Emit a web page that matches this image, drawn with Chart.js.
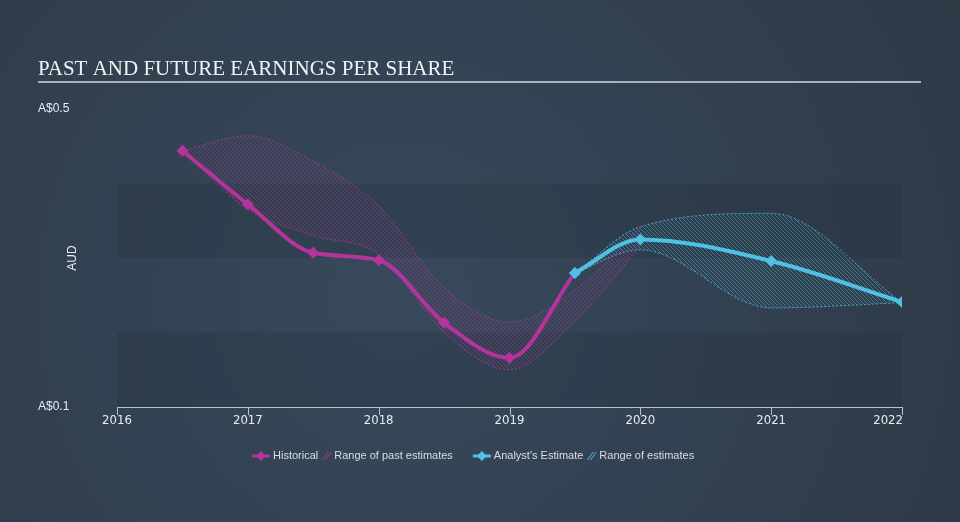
<!DOCTYPE html>
<html>
<head>
<meta charset="utf-8">
<script src="https://cdn.jsdelivr.net/npm/chart.js@4"></script>
<style>
  html, body { margin: 0; padding: 0; background: #334253; }
  #wrap { width: 960px; height: 522px; position: relative; }
</style>
</head>
<body>
<div id="wrap"><canvas id="eps" width="960" height="522"></canvas></div>
<script>
// Past and future EPS (AUD)
const yearTicks = [2016, 2017, 2018, 2019, 2020, 2021, 2022];
const yTicks = [0.1, 0.5];

const histX = [2016.5, 2017, 2017.5, 2018, 2018.5, 2019, 2019.5];
const histEps = [0.444, 0.372, 0.307, 0.297, 0.213, 0.166, 0.280];

const pastX = [2016.5, 2017, 2017.5, 2018, 2018.5, 2019, 2019.5, 2020];
const pastHigh = [0.444, 0.464, 0.430, 0.370, 0.260, 0.214, 0.257, 0.340];
const pastLow = [0.444, 0.365, 0.330, 0.305, 0.200, 0.150, 0.215, 0.315];

const estX = [2019.5, 2020, 2021, 2022];
const estEps = [0.280, 0.325, 0.296, 0.241];
const estHigh = [0.280, 0.342, 0.360, 0.241];
const estLow = [0.280, 0.311, 0.233, 0.240];

const MAGENTA = '#b4349b';
const BLUE = '#4fc1e3';
const FONT = "'Liberation Sans', Arial, sans-serif";

function pts(xs, ys) { return xs.map((x, i) => ({ x: x, y: ys[i] })); }

function hatch(color) {
  const s = 4;
  const c = document.createElement('canvas');
  c.width = s; c.height = s;
  const g = c.getContext('2d');
  g.strokeStyle = color;
  g.lineWidth = 1;
  g.beginPath();
  g.moveTo(0, 0); g.lineTo(s, s);
  g.moveTo(-1, s - 1); g.lineTo(1, s + 1);
  g.moveTo(s - 1, -1); g.lineTo(s + 1, 1);
  g.stroke();
  return g.createPattern(c, 'repeat');
}

const frame = {
  id: 'frame',
  beforeDraw(chart) {
    const { ctx, width, height } = chart;
    const grd = ctx.createRadialGradient(400, 300, 50, 400, 300, 640);
    grd.addColorStop(0, '#36485a');
    grd.addColorStop(1, '#2e3946');
    ctx.save();
    ctx.fillStyle = grd;
    ctx.fillRect(0, 0, width, height);

    // title + rule
    ctx.fillStyle = '#f2f2f2';
    ctx.font = "21px 'Liberation Serif', 'Times New Roman', serif";
    ctx.textBaseline = 'alphabetic';
    ctx.fillText('PAST AND FUTURE EARNINGS PER SHARE', 38, 75);
    ctx.fillStyle = '#a9b1b9';
    ctx.fillRect(38, 81, 883, 2);
    ctx.restore();
  },
  beforeDatasetsDraw(chart) {
    const { ctx, chartArea: a, scales: { y } } = chart;
    ctx.save();
    ctx.fillStyle = 'rgba(30,40,52,0.2)';
    [[0.1, 0.2], [0.3, 0.4]].forEach(([lo, hi]) => {
      const t = y.getPixelForValue(hi), b = y.getPixelForValue(lo);
      ctx.fillRect(a.left, t, a.right - a.left, b - t);
    });
    ctx.restore();
  },
  afterDraw(chart) {
    const { ctx, chartArea: a, scales: { x, y } } = chart;
    ctx.save();
    // x axis
    ctx.strokeStyle = '#b8c2cc';
    ctx.lineWidth = 1;
    ctx.beginPath();
    ctx.moveTo(a.left, a.bottom + 0.5);
    ctx.lineTo(a.right, a.bottom + 0.5);
    yearTicks.forEach(v => {
      const px = Math.round(x.getPixelForValue(v)) + 0.5;
      ctx.moveTo(px, a.bottom);
      ctx.lineTo(px, a.bottom + 8);
    });
    ctx.stroke();
    ctx.fillStyle = '#e8ecef';
    ctx.font = "13px 'Liberation Sans Narrow', 'DejaVu Sans Condensed', " + FONT;
    ctx.textBaseline = 'middle';
    yearTicks.forEach((v, i) => {
      const px = x.getPixelForValue(v);
      ctx.textAlign = i === yearTicks.length - 1 ? 'right' : 'center';
      ctx.fillText(String(v), i === yearTicks.length - 1 ? px + 1 : px, a.bottom + 14);
    });
    // y labels
    ctx.font = '12px ' + FONT;
    ctx.textAlign = 'left';
    yTicks.forEach(v => {
      ctx.fillText('A$' + v, 38, y.getPixelForValue(v));
    });
    ctx.save();
    ctx.translate(73, (a.top + a.bottom) / 2);
    ctx.rotate(-Math.PI / 2);
    ctx.textAlign = 'center';
    ctx.fillText('AUD', 0, 0);
    ctx.restore();

    // legend
    const ly = 456;
    ctx.font = '11px ' + FONT;
    ctx.textAlign = 'left';
    const marker = (cx, col) => {
      ctx.strokeStyle = col; ctx.lineWidth = 3;
      ctx.beginPath(); ctx.moveTo(cx - 9, ly); ctx.lineTo(cx + 9, ly); ctx.stroke();
      ctx.fillStyle = col;
      ctx.beginPath();
      ctx.moveTo(cx, ly - 5); ctx.lineTo(cx + 5, ly); ctx.lineTo(cx, ly + 5); ctx.lineTo(cx - 5, ly);
      ctx.closePath(); ctx.fill();
    };
    const hatchIcon = (lx, col) => {
      ctx.strokeStyle = col; ctx.lineWidth = 1;
      ctx.beginPath();
      for (let k = 0; k < 2; k++) {
        ctx.moveTo(lx + k * 3, ly + 4); ctx.lineTo(lx + k * 3 + 6, ly - 4);
      }
      ctx.stroke();
    };
    const items = [
      { kind: 'm', col: MAGENTA, text: 'Historical' },
      { kind: 'h', col: MAGENTA, text: 'Range of past estimates' },
      { kind: 'm', col: BLUE, text: "Analyst's Estimate" },
      { kind: 'h', col: BLUE, text: 'Range of estimates' }
    ];
    let lx = 251;
    items.forEach((it, i) => {
      if (it.kind === 'm') { marker(lx + 10, it.col); lx += 22; }
      else { hatchIcon(lx, it.col); lx += 12; }
      ctx.fillStyle = '#d9dee3';
      ctx.fillText(it.text, lx, ly);
      lx += ctx.measureText(it.text).width + (i === 1 ? 19 : 4);
    });
    ctx.restore();
  }
};

const line = (label, xs, ys, col, order) => ({
  label: label,
  data: pts(xs, ys),
  borderColor: col,
  backgroundColor: col,
  borderWidth: 4,
  pointStyle: 'rectRot',
  pointRadius: 6,
  pointBorderWidth: 0,
  cubicInterpolationMode: 'monotone',
  fill: false,
  order: order
});

const band = (label, xs, ys, col, hatchCol, fillTo, order) => ({
  label: label,
  data: pts(xs, ys),
  borderColor: col,
  borderWidth: 1,
  borderDash: [2, 2],
  pointRadius: 0,
  cubicInterpolationMode: 'monotone',
  fill: fillTo,
  backgroundColor: fillTo ? hatch(hatchCol) : 'transparent',
  order: order
});

new Chart(document.getElementById('eps'), {
  type: 'line',
  data: {
    datasets: [
      line("Analyst's Estimate", estX, estEps, BLUE, 0),
      line('Historical', histX, histEps, MAGENTA, 1),
      band('Range of estimates', estX, estHigh, 'rgba(79,193,227,0.8)', 'rgba(79,193,227,0.45)', '+1', 2),
      band('est low', estX, estLow, 'rgba(79,193,227,0.8)', null, false, 3),
      band('Range of past estimates', pastX, pastHigh, 'rgba(180,52,155,0.8)', 'rgba(180,52,155,0.45)', '+1', 4),
      band('past low', pastX, pastLow, 'rgba(180,52,155,0.8)', null, false, 5)
    ]
  },
  options: {
    responsive: false,
    animation: false,
    layout: { padding: { left: 117, right: 58, top: 109, bottom: 115 } },
    scales: {
      x: { type: 'linear', min: 2016, max: 2022, display: false },
      y: { type: 'linear', min: 0.1, max: 0.5, display: false }
    },
    plugins: {
      legend: { display: false },
      tooltip: { enabled: false }
    }
  },
  plugins: [frame]
});
</script>
</body>
</html>
